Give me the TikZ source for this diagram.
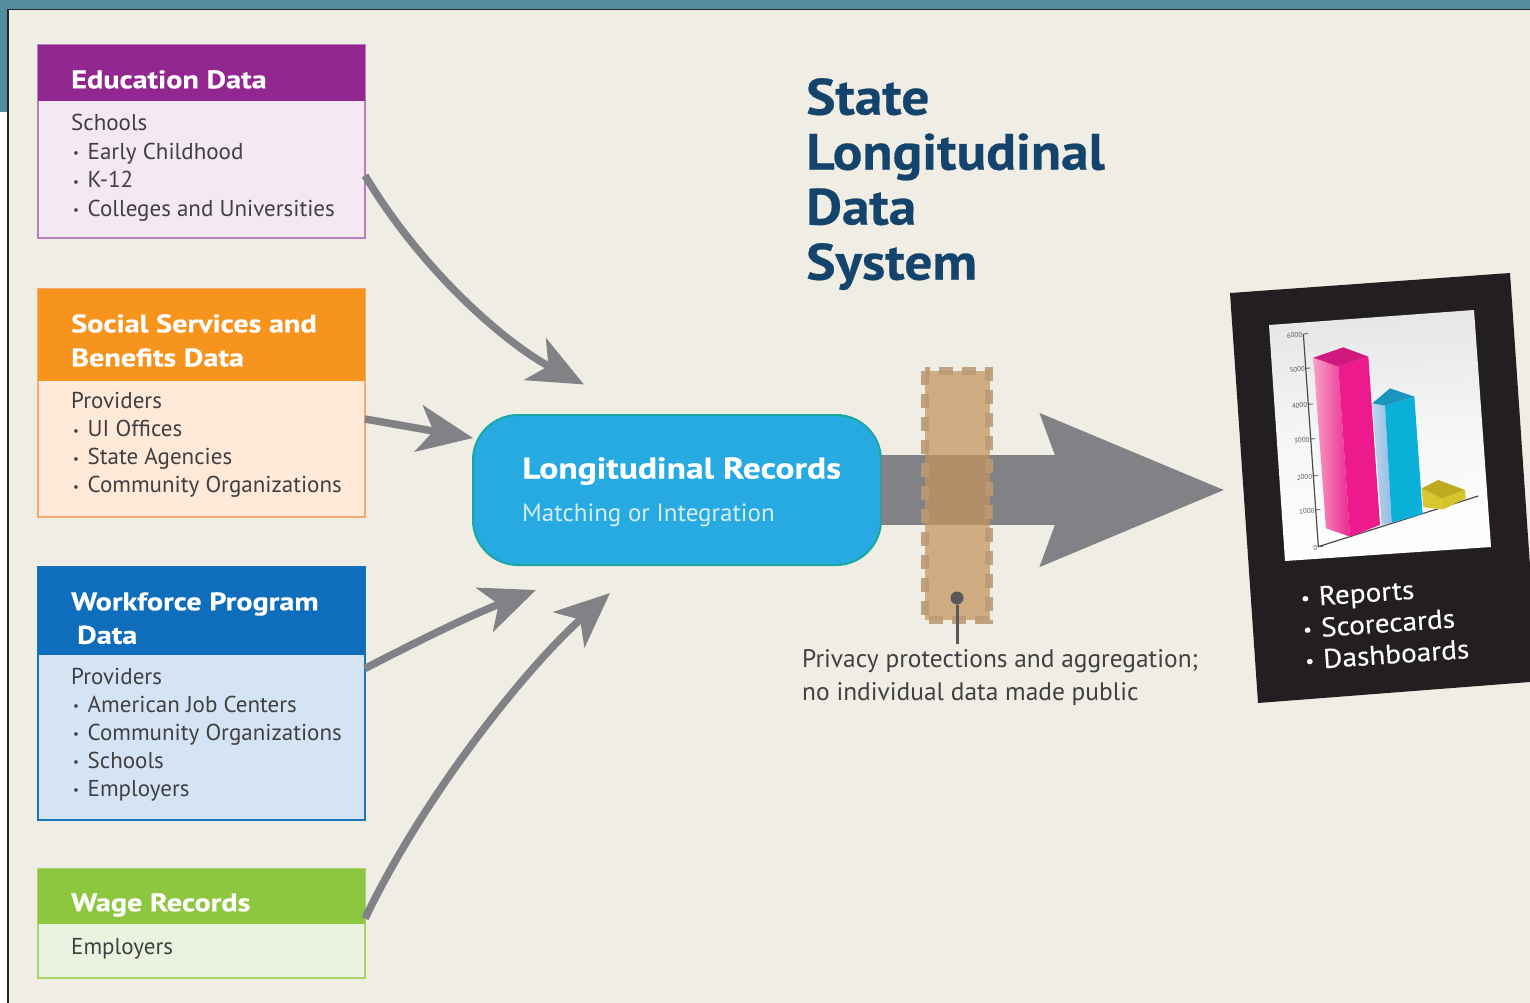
\documentclass[tikz,border=0pt]{standalone}
\usepackage{fontspec}
\setmainfont{PT Sans}
\newfontfamily\hdfont[FakeStretch=1.185,FakeBold=0.3]{PT Sans}
\newfontfamily\titlefont[FakeStretch=1.085,FakeBold=0.5]{PT Sans}
\newfontfamily\cardfont[FakeStretch=1.085,FakeBold=0.2]{PT Sans}
\usetikzlibrary{arrows.meta,calc}
\definecolor{bgc}{HTML}{F0EDE5}
\definecolor{teal0}{HTML}{548C9F}
\definecolor{gr}{HTML}{808285}
\definecolor{navy}{HTML}{14446C}
\definecolor{txt}{HTML}{404042}
\definecolor{edub}{HTML}{B77FBB}\definecolor{eduf}{HTML}{F4E8F3}\definecolor{eduh}{HTML}{92278F}
\definecolor{socb}{HTML}{F9A869}\definecolor{socf}{HTML}{FFE9D9}\definecolor{soch}{HTML}{F7941E}
\definecolor{wfb}{HTML}{1B75BC}\definecolor{wff}{HTML}{D5E4F5}\definecolor{wfh}{HTML}{0E6EBB}
\definecolor{wgb}{HTML}{A8D36A}\definecolor{wgf}{HTML}{EAF2E0}\definecolor{wgh}{HTML}{8DC63F}
\definecolor{recf}{HTML}{26AAE1}\definecolor{recb}{HTML}{1AA7A0}\definecolor{recs}{HTML}{D6EEF9}
\definecolor{tanf}{HTML}{C4945E}\definecolor{tand}{HTML}{BC9A75}\definecolor{pinc}{HTML}{58595B}
\definecolor{card}{HTML}{231F20}\definecolor{chtop}{HTML}{E4E6E7}\definecolor{chmid}{HTML}{F5F6F6}
\definecolor{pk1}{HTML}{F8A0C4}\definecolor{pk2}{HTML}{EC2891}\definecolor{pk3}{HTML}{ED1A8D}\definecolor{pk4}{HTML}{D0197F}
\definecolor{bl1}{HTML}{BCD4EC}\definecolor{bl2}{HTML}{96BEE4}\definecolor{bl3}{HTML}{0BB0D8}\definecolor{bl4}{HTML}{1A96BE}
\definecolor{ye1}{HTML}{D8C830}\definecolor{ye2}{HTML}{D6C428}\definecolor{ye3}{HTML}{BEAA1E}
\newcommand{\fs}[1]{\fontsize{#1}{#1}\selectfont}
\newcommand{\bul}[1]{\makebox[16.5pt][l]{\hspace{2pt}\raisebox{1.5pt}{\fs{13}•}}#1}
\newcommand{\cbul}[1]{\makebox[20pt][l]{\hspace{2pt}\raisebox{2pt}{\fs{18}•}}#1}
\tikzset{
  x=1pt,y=-1pt,
  panel/.style={anchor=north west,inner sep=0,outer sep=0,minimum width=327pt,line width=2pt},
  head/.style={anchor=north west,inner sep=0,outer sep=0,minimum width=327pt},
  headtxt/.style={anchor=north west,inner sep=0,align=left,text=white,font=\hdfont\bfseries\fs{25.5}},
  bodytxt/.style={anchor=north west,inner sep=0,align=left,text=txt,font=\fs{23}},
  shaft/.style={draw=gr,line width=7.5pt},
  thinarrow/.style={-{Stealth[length=55pt,width=47pt,inset=15pt]}},
}
\begin{document}
\begin{tikzpicture}
\useasboundingbox (0,0) rectangle (1530,1003);
% background
\fill[white] (0,0) rectangle (1530,1003);
\fill[teal0] (0,0) rectangle (1530,9);
\fill[teal0] (0,0) rectangle (8,112);
\filldraw[fill=bgc,draw=black!85,line width=1.5pt] (8,9.5) -- (1531,9.5) -- (1531,1004) -- (8,1004) -- cycle;

% source panels
\node[panel,minimum height=193pt,draw=edub,fill=eduf] (edu) at (38,45) {};
\node[head,minimum height=56pt,fill=eduh] (eduhd) at (38,45) {};
\node[headtxt] (edut) at (71,70) {Education Data};
\node[bodytxt] (edubd) at (71,114) {Schools\\[5.6pt]\bul{Early Childhood}\\[5.6pt]\bul{K-12}\\[5.6pt]\bul{Colleges and Universities}};

\node[panel,minimum height=228pt,draw=socb,fill=socf] (soc) at (38,289) {};
\node[head,minimum height=92pt,fill=soch] (sochd) at (38,289) {};
\node[headtxt] (soct) at (71,314) {Social Services and\\[8.5pt]Benefits Data};
\node[bodytxt] (socbd) at (71,392.5) {Providers\\[5pt]\bul{UI Offices}\\[5pt]\bul{State Agencies}\\[5pt]\bul{Community Organizations}};

\node[panel,minimum height=253pt,draw=wfb,fill=wff] (wf) at (38,567) {};
\node[head,minimum height=88pt,fill=wfh] (wfhd) at (38,567) {};
\node[headtxt] (wft) at (71,592) {Workforce Program\\[8pt]\hspace{6pt}Data};
\node[bodytxt] (wfbd) at (71,668) {Providers\\[5pt]\bul{American Job Centers}\\[5pt]\bul{Community Organizations}\\[5pt]\bul{Schools}\\[5pt]\bul{Employers}};

\node[panel,minimum height=109pt,draw=wgb,fill=wgf] (wage) at (38,869) {};
\node[head,minimum height=55pt,fill=wgh] (wagehd) at (38,869) {};
\node[headtxt] (waget) at (71,893) {Wage Records};
\node[bodytxt] (wagebd) at (71,938) {Employers};

% centre
\node[anchor=north west,inner sep=0,outer sep=0,minimum width=408pt,minimum height=150pt,rounded corners=45pt,fill=recf,draw=recb,line width=2pt] (rec) at (473,415) {};
\node[anchor=north west,inner sep=0,text=white,font=\hdfont\bfseries\fs{30}] (rect) at (522,457) {Longitudinal Records};
\node[anchor=north west,inner sep=0,text=recs,font=\fs{25}] (recsub) at (522,504) {Matching or Integration};

% connectors
\coordinate (t1) at (584,384.5);
\coordinate (t2) at (473,438);
\coordinate (t3) at (536,590);
\coordinate (t4) at (610,593);
\coordinate (t5) at (1226,490);
\draw[shaft,thinarrow] ([yshift=-34pt]edu.east) .. controls +(60,100) and (510,346) .. (t1);
\draw[shaft,thinarrow] ([yshift=-16pt]soc.east) -- (t2);
\draw[shaft,thinarrow] ([yshift=25pt]wf.east) .. controls +(50,-26) and (471,615) .. (t3);
\draw[shaft,thinarrow] ([yshift=5pt]wage.east) .. controls +(60,-125) and (527,667) .. (t4);
\draw[draw=gr,line width=70pt,-{Stealth[length=181pt,width=144pt,inset=23pt]}] (rec.east) -- (t5);

% privacy band
\fill[tanf,opacity=.72] (924.5,371) rectangle (989.5,620);
\draw[tand,line width=7.5pt,dash pattern=on 14pt off 9pt,opacity=.9] (925,371) rectangle (989,620);
\node[circle,fill=pinc,minimum size=13pt,inner sep=0] (pin) at (957,598) {};
\coordinate (pinend) at (957,644);
\draw[pinc,line width=3pt] (pin) -- (pinend);
\node[anchor=north west,inner sep=0,align=left,text=txt,font=\fs{25.4}] (cap) at (802,649) {Privacy protections and aggregation;\\[7.6pt]no individual data made public};

% title
\node[anchor=north west,inner sep=0,align=left,text=navy,font=\titlefont\bfseries\fs{51}] (title) at (806,78) {State\\[4pt]Longitudinal\\[4pt]Data\\[4pt]System};

% report card
\fill[card] (1230,293) -- (1510,273) -- (1530,566) -- (1530,682) -- (1258,703) -- cycle;
\shade[top color=chtop,bottom color=white,middle color=chmid,shading angle=4] (1269,325) -- (1474,310) -- (1491,547) -- (1285,561) -- cycle;
\begin{scope}[shift={(1220,260)},x=0.3333pt,y=-0.3333pt]
  \colorlet{ax}{black!70}
  \draw[ax,line width=1.2pt] (250,222) -- (295,860) -- (775,708);
  \foreach \tx/\ty/\lab in {250/222/6000,258/325/5000,265/433/4000,272/537/3000,280/648/2000,287/750/1000,295/860/0}{
    \draw[ax,line width=.8pt] (\tx,\ty) -- ++(14,-1);
    \node[anchor=east,inner sep=0,text=black!65,rotate=4,font=\fs{7}] at (\tx-3,\ty+2) {\lab};
  }
  % pink bar
  \shade[left color=pk1,right color=pk2] (280,293) -- (355,320) -- (390,830) -- (318,805) -- cycle;
  \fill[pk3] (355,320) -- (445,290) -- (480,795) -- (390,830) -- cycle;
  \fill[pk4] (280,293) -- (370,262) -- (445,290) -- (355,320) -- cycle;
  % blue bar
  \shade[left color=bl1,right color=bl2] (457,430) -- (495,437) -- (515,788) -- (485,795) -- cycle;
  \fill[bl3] (495,437) -- (583,410) -- (608,762) -- (515,788) -- cycle;
  \fill[bl4] (457,430) -- (510,385) -- (583,410) -- (495,437) -- cycle;
  % yellow bar
  \fill[ye1] (605,685) -- (665,715) -- (670,748) -- (610,742) -- cycle;
  \fill[ye2] (665,715) -- (735,690) -- (737,715) -- (670,748) -- cycle;
  \fill[ye3] (605,685) -- (655,660) -- (735,690) -- (665,715) -- cycle;
\end{scope}
\node[anchor=north west,inner sep=0,align=left,rotate=4,text=white,font=\cardfont\fs{27}] (reports) at (1298,587.5) {\cbul{Reports}\\[4.5pt]\cbul{Scorecards}\\[4.5pt]\cbul{Dashboards}};
\end{tikzpicture}
\end{document}
